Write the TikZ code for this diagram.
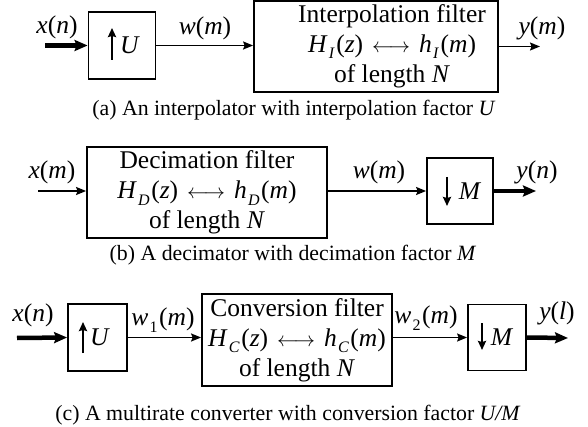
\documentclass[tikz,border=0pt]{standalone}
\usepackage{fontspec}
\setmainfont{Liberation Serif}
\usepackage{tikz}
\usetikzlibrary{calc,arrows.meta}
\newcommand{\mv}[1]{\textit{#1}}
\newcommand{\lsub}[1]{\kern0.05em\raisebox{-0.26em}{\fontsize{16}{16}\selectfont #1}\kern0.06em}
\newcommand{\dblarr}{\kern0.1em{\fontsize{20}{20}\selectfont$\longleftrightarrow$}\kern0.1em}

\begin{document}
\begin{tikzpicture}[x=1pt,y=-1pt,font=\fontsize{25.5}{29}\selectfont,
  blk/.style={draw,line width=1.8pt,inner sep=0pt},
  ftxt/.style={align=center,inner sep=0pt,font=\fontsize{25.5}{30}\selectfont},
  sig/.style={inner sep=0pt},
  captxt/.style={inner sep=0pt,font=\fontsize{21.8}{26}\selectfont},
  thn/.style={-{Stealth[length=10pt,width=8pt,inset=1.5pt]},line width=1.5pt},
  thk/.style={-{Stealth[length=13pt,width=11pt,inset=2pt]},line width=4.5pt},
  rt/.style={-{Stealth[length=9pt,width=8pt,inset=1pt]},line width=2.2pt}]
  \useasboundingbox (0,0) rectangle (588,427);

  % (a) interpolator
  \node[blk,minimum width=67pt,minimum height=67pt] (ua) at (122,45.5) {};
  \node[sig] (uaU) at ($(ua.center)+(8,0)$) {\mv{U}};
  \draw[rt] ($(ua.center)+(-10,14.5)$) -- ($(ua.center)+(-10,-17.5)$);
  \node[blk,minimum width=244pt,minimum height=91pt] (fa) at (376,46.5) {};
  \node[ftxt] (fatxt) at (392,46) {Interpolation filter\\ \mv{H}\lsub{\mv{I}}(\mv{z}) \dblarr{} \mv{h}\lsub{\mv{I}}(\mv{m})\\ of length \mv{N}};
  \node[sig] (xa) at (57,27) {\mv{x}(\mv{n})};
  \node[sig] (wa) at (205,28) {\mv{w}(\mv{m})};
  \node[sig] (ya) at (542,28) {\mv{y}(\mv{m})};
  \coordinate (xa0) at (45,45.5);
  \coordinate (ya1) at (540,46.5);
  \draw[thk] (xa0) -- (ua.west);
  \draw[thn] (ua.east) -- (ua.east -| fa.west);
  \draw[thn] (fa.east) -- (ya1);
  \node[captxt] (capa) at (294,110) {(a) An interpolator with interpolation factor \mv{U}};

  % (b) decimator
  \node[blk,ftxt,minimum width=240pt,minimum height=91pt] (fb) at (207,192.5) {Decimation filter\\ \mv{H}\lsub{\mv{D}}(\mv{z}) \dblarr{} \mv{h}\lsub{\mv{D}}(\mv{m})\\ of length \mv{N}};
  \node[blk,minimum width=66pt,minimum height=66pt] (db) at (460,191) {};
  \node[sig] (dbM) at ($(db.center)+(10,0)$) {\mv{M}};
  \draw[rt] ($(db.center)+(-13,-14)$) -- ($(db.center)+(-13,15)$);
  \node[sig] (xb) at (52,172) {\mv{x}(\mv{m})};
  \node[sig] (wb) at (379,172) {\mv{w}(\mv{m})};
  \node[sig] (yb) at (537,172) {\mv{y}(\mv{n})};
  \coordinate (xb0) at (38,191);
  \coordinate (yb1) at (536,191);
  \draw[thn] (xb0) -- (xb0 -| fb.west);
  \draw[thn] (db.west -| fb.east) -- (db.west);
  \draw[thk] (db.east) -- (yb1);
  \node[captxt] (capb) at (293,255) {(b) A decimator with decimation factor \mv{M}};

  % (c) multirate converter
  \node[blk,minimum width=59pt,minimum height=67pt] (uc) at (97.5,337.5) {};
  \node[sig] (ucU) at ($(uc.center)+(2.5,0)$) {\mv{U}};
  \draw[rt] ($(uc.center)+(-14.5,15.5)$) -- ($(uc.center)+(-14.5,-15.5)$);
  \node[blk,ftxt,minimum width=190pt,minimum height=92pt] (fc) at (297,340) {Conversion filter\\ \mv{H}\lsub{\mv{C}}(\mv{z}) \dblarr{} \mv{h}\lsub{\mv{C}}(\mv{m})\\ of length \mv{N}};
  \node[blk,minimum width=58pt,minimum height=66pt] (dc) at (497,337.5) {};
  \node[sig] (dcM) at ($(dc.center)+(5,0)$) {\mv{M}};
  \draw[rt] ($(dc.center)+(-15,-14.5)$) -- ($(dc.center)+(-15,12.5)$);
  \node[sig] (xc) at (33,315) {\mv{x}(\mv{n})};
  \node[sig] (wc1) at (163,320) {\mv{w}\lsub{1}(\mv{m})};
  \node[sig] (wc2) at (426,318) {\mv{w}\lsub{2}(\mv{m})};
  \node[sig] (yc) at (557,313) {\mv{y}(\mv{l})};
  \coordinate (xc0) at (17,338);
  \coordinate (yc1) at (568,338);
  \draw[thk] (xc0) -- (uc.west);
  \draw[thn] (uc.east) -- (uc.east -| fc.west);
  \draw[thn] (dc.west -| fc.east) -- (dc.west);
  \draw[thk] (dc.east) -- (yc1);
  \node[captxt] (capc) at (288,415) {(c) A multirate converter with conversion factor \mv{U/M}};
\end{tikzpicture}
\end{document}
